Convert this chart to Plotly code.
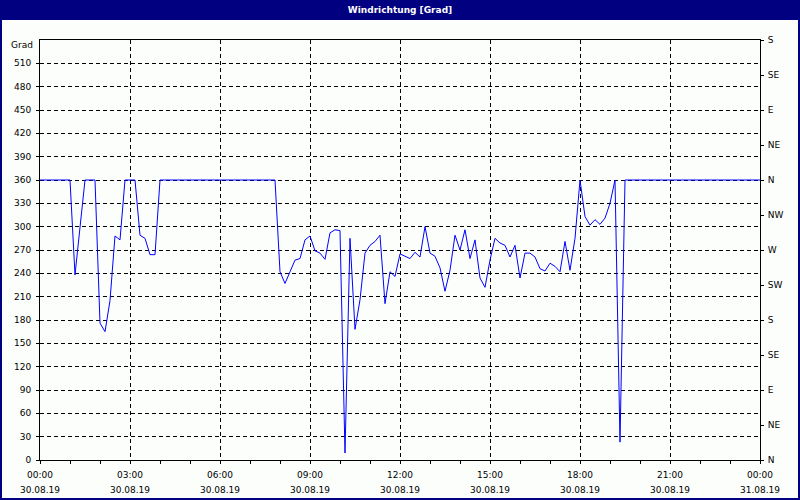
import plotly.graph_objects as go

# Wind direction in degrees, one reading every 10 minutes from 30.08.19 00:00 to 31.08.19 00:00
step_minutes = 10
wind_dir = [
    360, 360, 360, 360, 360, 360, 360, 238, 299, 360,   # 00:00 - 01:30
    360, 360, 176, 165, 205, 288, 283, 360, 360, 360,   # 01:40 - 03:10
    289, 285, 264, 264, 360, 360, 360, 360, 360, 360,   # 03:20 - 04:50
    360, 360, 360, 360, 360, 360, 360, 360, 360, 360,   # 05:00 - 06:30
    360, 360, 360, 360, 360, 360, 360, 360, 242, 227,   # 06:40 - 08:10
    242, 257, 259, 283, 288, 269, 266, 258, 292, 296,   # 08:20 - 09:50
    295, 9, 285, 168, 206, 266, 276, 281, 289, 201,     # 10:00 - 11:30
    242, 236, 265, 262, 259, 267, 261, 300, 266, 262,   # 11:40 - 13:10
    247, 217, 244, 289, 270, 296, 259, 283, 234, 222,   # 13:20 - 14:50
    257, 285, 279, 276, 261, 276, 234, 266, 266, 261,   # 15:00 - 16:30
    246, 243, 253, 249, 242, 281, 244, 285, 360, 313,   # 16:40 - 18:10
    302, 309, 303, 311, 330, 360, 23, 360, 360, 360,    # 18:20 - 19:50
    360, 360, 360, 360, 360, 360, 360, 360, 360, 360,   # 20:00 - 21:30
    360, 360, 360, 360, 360, 360, 360, 360, 360, 360,   # 21:40 - 23:10
    360, 360, 360, 360, 360,                            # 23:20 - 24:00
]
hours = [i * step_minutes / 60 for i in range(len(wind_dir))]

x_tick_hours = [0, 3, 6, 9, 12, 15, 18, 21, 24]
x_time_labels = ["00:00", "03:00", "06:00", "09:00", "12:00", "15:00", "18:00", "21:00", "00:00"]
x_date_labels = ["30.08.19"] * 8 + ["31.08.19"]
x_minor_hours = list(range(25))

y_ticks = list(range(0, 540, 30))
y_labels = [str(v) for v in y_ticks]
compass_ticks = list(range(0, 541, 45))
compass_labels = ["N", "NE", "E", "SE", "S", "SW", "W", "NW", "N", "NE", "E", "SE", "S"]

title_text = "Windrichtung [Grad]"
unit_text = "Grad"

NAVY = "#000080"
BG = "#FCFEFC"

fig = go.Figure()
fig.add_trace(go.Scatter(
    x=hours, y=wind_dir, mode="lines",
    line=dict(color="#0000FF", width=1),
    showlegend=False, hoverinfo="x+y",
))
# helper trace on the secondary axes (date row and compass axis)
fig.add_trace(go.Scatter(
    x=[hours[0], hours[-1]], y=[0, 0], xaxis="x2", yaxis="y2",
    mode="lines", line=dict(color="rgba(0,0,0,0)", width=0),
    showlegend=False, hoverinfo="skip",
))

L, R, T, B = 40, 40, 40, 40
W, H = 800, 500
pw, ph = W - L - R, H - T - B

fig.update_layout(
    width=W, height=H,
    margin=dict(l=L, r=R, t=T, b=B, pad=0, autoexpand=False),
    paper_bgcolor=BG, plot_bgcolor=BG,
    font=dict(family="DejaVu Sans", size=9, color="black"),
    showlegend=False,
    title=dict(text="<b>" + title_text + "</b>", x=0.5, xanchor="center",
               xref="paper", y=1 - 10 / H, yanchor="middle", yref="container",
               font=dict(color="white", size=9, family="DejaVu Sans")),
    xaxis=dict(
        range=[0, 24], tickvals=x_tick_hours, ticktext=x_time_labels,
        showgrid=True, gridcolor="black", gridwidth=1, griddash="4px,3px",
        showline=True, linecolor="black", linewidth=1, mirror=True,
        ticks="outside", ticklen=3, tickcolor="black", tickwidth=1,
        minor=dict(tickvals=x_minor_hours, ticks="outside", ticklen=3,
                   tickcolor="black", showgrid=False),
        zeroline=False, ticklabelstandoff=3, automargin=False,
    ),
    xaxis2=dict(
        range=[0, 24], tickvals=x_tick_hours, ticktext=x_date_labels,
        overlaying="x", anchor="y", side="bottom",
        showgrid=False, showline=False, ticks="", zeroline=False,
        ticklabelstandoff=23, automargin=False,
    ),
    yaxis=dict(
        range=[0, 540], tickvals=y_ticks, ticktext=y_labels,
        showgrid=True, gridcolor="black", gridwidth=1, griddash="4px,3px",
        showline=True, linecolor="black", linewidth=1, mirror=True,
        ticks="outside", ticklen=3, tickcolor="black", tickwidth=1,
        zeroline=False, ticklabelstandoff=3, automargin=False,
    ),
    yaxis2=dict(
        range=[0, 540], tickvals=compass_ticks, ticktext=compass_labels,
        overlaying="y", anchor="x", side="right",
        showgrid=False, showline=False, zeroline=False,
        ticks="outside", ticklen=3, tickcolor="black", tickwidth=1,
        ticklabelstandoff=2, automargin=False,
    ),
    shapes=[
        # title bar
        dict(type="rect", xref="paper", yref="paper", layer="below",
             x0=-L / pw, x1=1 + R / pw, y0=1 + (T - 20) / ph, y1=1 + T / ph,
             fillcolor=NAVY, line=dict(width=0)),
        # window frame
        dict(type="rect", xref="paper", yref="paper",
             x0=(1 - L) / pw, x1=(W - 1 - L) / pw,
             y0=(H - B - (H - 1)) / ph, y1=(H - B - 1) / ph,
             fillcolor="rgba(0,0,0,0)", line=dict(color=NAVY, width=2)),
    ],
    annotations=[
        dict(text=unit_text, xref="paper", yref="paper", x=0, y=1,
             xanchor="right", yanchor="middle", xshift=-5, yshift=-5,
             showarrow=False, font=dict(size=9, color="black")),
    ],
)

fig.write_html(
    "out.html",
    config={"displayModeBar": False},
    post_script="document.body.style.margin='0';document.body.style.overflow='hidden';",
)
